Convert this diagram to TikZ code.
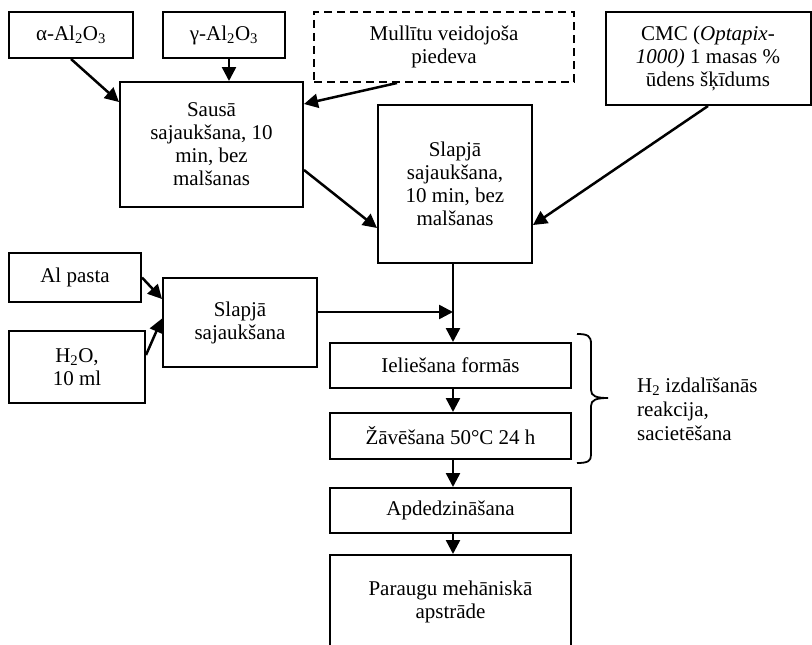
\documentclass[tikz,border=0pt]{standalone}
\usepackage{fontspec}
\setmainfont{Liberation Serif}
\usetikzlibrary{arrows.meta}
\begin{document}
\begin{tikzpicture}[x=1pt,y=-1pt,
  box/.style={draw, line width=2pt, align=center, inner sep=2pt, font=\fontsize{21}{23}\selectfont},
  dbox/.style={box, dash pattern=on 8pt off 5pt},
  arr/.style={line width=2.5pt, -{Triangle[length=14pt,width=14pt]}},
  bracestyle/.style={line width=1.8pt},
  lbl/.style={align=left, inner sep=0pt, font=\fontsize{21}{24}\selectfont}
]
\useasboundingbox (0,0) rectangle (812,645);
\clip (0,0) rectangle (812,645);
% top row
\node[box, minimum width=124pt, minimum height=46pt] (alpha) at (71,35) {α-Al\textsubscript{2}O\textsubscript{3}};
\node[box, minimum width=122pt, minimum height=46pt] (gamma) at (224,35) {γ-Al\textsubscript{2}O\textsubscript{3}};
\node[dbox, minimum width=260pt, minimum height=70pt] (mull) at (444,47) {Mullītu veidojoša\\piedeva};
\node[box, minimum width=205pt, minimum height=93pt] (cmc) at (708,58.5) {CMC (\textit{Optapix-}\\\textit{1000)} 1 masas \%\\ūdens šķīdums};
% mixing
\node[box, minimum width=183pt, minimum height=125pt] (sausa) at (211.5,144.5) {Sausā\\sajaukšana, 10\\min, bez\\malšanas};
\node[box, minimum width=154pt, minimum height=158pt] (slapja) at (455,184) {Slapjā\\sajaukšana,\\10 min, bez\\malšanas};
% Al paste branch
\node[box, minimum width=132pt, minimum height=49pt] (alpasta) at (75,277.5) {Al pasta};
\node[box, minimum width=136pt, minimum height=72pt] (h2o) at (77,367) {H\textsubscript{2}O,\\10 ml};
\node[box, minimum width=154pt, minimum height=89pt] (slapjab) at (240,322.5) {Slapjā\\sajaukšana};
% main chain
\node[box, minimum width=241pt, minimum height=45pt] (ieli) at (450.5,365.5) {Ieliešana formās};
\node[box, minimum width=241pt, minimum height=46pt] (zav) at (450.5,436) {Žāvēšana 50°C 24 h};
\node[box, minimum width=241pt, minimum height=45pt] (apd) at (450.5,510.5) {Apdedzināšana};
\node[box, minimum width=241pt, minimum height=93pt] (par) at (450.5,601.5) {Paraugu mehāniskā\\apstrāde};
\coordinate (j) at (453,312);
% arrows
\draw[arr] (alpha.south) -- ([yshift=-21pt]sausa.north west);
\draw[arr] ([xshift=5pt]gamma.south) -- ([xshift=5pt]gamma.south |- sausa.north);
\draw[arr] ([xshift=-47pt]mull.south) -- ([yshift=-23pt]sausa.north east);
\draw[arr] ([yshift=38pt]sausa.south east) -- ([yshift=36pt]slapja.south west);
\draw[arr] (cmc.south) -- ([yshift=39pt]slapja.south east);
\draw[arr] (alpasta.east) -- ([yshift=-22pt]slapjab.north west);
\draw[arr] ([yshift=12pt]h2o.east) -- ([yshift=4pt]slapjab.west);
\draw[line width=2.5pt] (j |- slapja.south) -- (j);
\draw[arr] (slapjab.east |- j) -- (j);
\draw[arr] (j) -- (j |- ieli.north);
\draw[arr] (j |- ieli.south) -- (j |- zav.north);
\draw[arr] (j |- zav.south) -- (j |- apd.north);
\draw[arr] (j |- apd.south) -- (j |- par.north);
% brace
\draw[bracestyle] (577,334) .. controls (588,334) and (591,336) .. (591,344) -- (591,390)
  .. controls (591,396) and (596,398) .. (608,398)
  .. controls (596,398) and (591,400) .. (591,406) -- (591,455)
  .. controls (591,461) and (588,463) .. (577,463);
\node[lbl, anchor=west] (brtext) at (637,409) {H\textsubscript{2} izdalīšanās\\reakcija,\\sacietēšana};
\end{tikzpicture}
\end{document}
